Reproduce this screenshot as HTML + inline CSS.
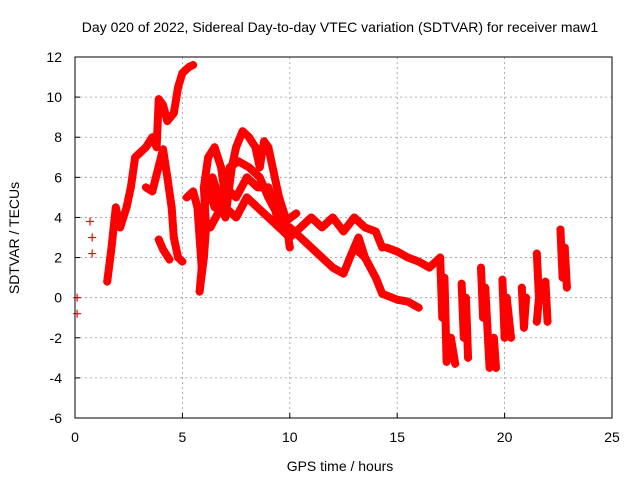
<!DOCTYPE html>
<html><head><meta charset="utf-8"><style>
body{margin:0;background:#fff}
svg{display:block;font-family:"Liberation Sans",sans-serif}
</style></head><body>
<svg id="chart" width="640" height="480">
<rect width="640" height="480" fill="#fff"/>
<text x="340" y="32" font-size="14" text-anchor="middle">Day 020 of 2022, Sidereal Day-to-day VTEC variation (SDTVAR) for receiver maw1</text>
<text x="340" y="471" font-size="14" text-anchor="middle">GPS time / hours</text>
<text transform="translate(19,238) rotate(-90)" font-size="14" text-anchor="middle">SDTVAR / TECUs</text>
<g id="grid"></g><g id="ticks"></g><g id="marks"></g>
<rect x="75" y="57" width="537" height="361" fill="none" stroke="#000"/>
</svg>
<script>
const xTicks=[0,5,10,15,20,25];
const yTicks=[-6,-4,-2,0,2,4,6,8,10,12];
const isoA=[[0.1,0],[0.1,-0.8]];
const isoB=[[0.7,3.8],[0.8,3],[0.8,2.2]];
const t1=[[1.5,0.8],[1.7,2.5],[1.9,4.5],[2.1,3.5],[2.4,4.5],[2.6,5.5],[2.8,7],[3.3,7.5],[3.6,8],[3.8,7.5],[3.9,9.9],[4.1,9.6],[4.3,8.8],[4.6,9.2],[4.8,10.5],[5.0,11.2],[5.3,11.5],[5.5,11.6]];
const t2=[[3.3,5.5],[3.6,5.3],[4.1,7.4],[4.3,6],[4.5,4.5],[4.6,3],[4.8,2],[5.0,1.8]];
const t2b=[[3.9,2.9],[4.1,2.4],[4.4,1.9]];
const t3=[[5.2,5],[5.5,5.3],[5.7,4.5],[5.8,3],[5.9,1.5],[5.8,0.3],[6.0,2],[6.1,3.5],[6.0,5.5],[6.2,7],[6.5,7.5],[6.8,6.5],[7.0,5]];
const t4=[[6.0,4.5],[6.4,6],[6.7,5],[7,4],[7.3,6.5],[7.5,7.5],[7.8,8.3],[8.1,8],[8.4,7.5],[8.6,6.5],[8.8,7.8],[9.0,7.5],[9.3,6],[9.5,5],[9.8,4],[10,2.5]];
const t5=[[6.2,5.5],[6.5,4.5],[7,5.5],[7.5,5],[8,6],[8.5,5.5],[9,5.5],[9.3,4.5],[9.5,3.5],[10,3],[10.5,3.5],[11,4],[11.5,3.5],[12,4],[12.5,3.3],[13,4],[13.5,3.5],[14,3.3],[14.3,2.5]];
const t6=[[7,4.5],[7.5,4],[8,5],[8.5,4.5],[9,4],[9.5,3.5],[10,3.5],[10.5,3],[11,2.5],[11.5,2],[12,1.5],[12.5,1.2],[12.8,2],[13.2,3],[13.5,2]];
const t7=[[13,2.5],[13.5,2],[14,1],[14.3,0.2],[15,-0.1],[15.5,-0.2],[16,-0.5]];
const t8=[[14.5,2.5],[15,2.3],[15.5,2],[16,1.8],[16.5,1.5],[17,2]];
const t9=[[6.3,3.5],[6.8,4.5],[7.2,6.5],[7.6,6.8],[8.1,6.5],[8.6,6],[9.0,5],[9.4,4.2],[9.8,3.8],[10.3,4.2]];
const c1=[[17.0,2],[17.1,-1],[17.2,1],[17.3,-3.2],[17.5,-2],[17.7,-3.3]];
const c2=[[18.0,0.7],[18.1,-2],[18.2,0],[18.3,-3]];
const c3=[[18.9,1.5],[19.0,-1],[19.1,0.5],[19.3,-3.5],[19.5,-2],[19.6,-3.5]];
const c4=[[19.9,0.9],[20.0,-2],[20.1,0],[20.3,-2]];
const c5=[[20.8,0.5],[20.9,-1.5],[21.0,0]];
const c6=[[21.5,2.2],[21.6,0],[21.5,-1.2]];
const c7=[[21.9,0.8],[22.0,-1.2]];
const c8=[[22.6,3.4],[22.7,1],[22.8,2.5],[22.9,0.5]];
const tracks=[isoA,isoB,t1,t2,t2b,t3,t4,t5,t6,t7,t8,t9,c1,c2,c3,c4,c5,c6,c7,c8];
const NS='http://www.w3.org/2000/svg';
const X=v=>75+v*537/25, Y=v=>57+(12-v)*361/18;
const grid=document.getElementById('grid'),ticks=document.getElementById('ticks'),marks=document.getElementById('marks');
function mk(tag,attrs,parent){const e=document.createElementNS(NS,tag);for(const k in attrs)e.setAttribute(k,attrs[k]);parent.appendChild(e);return e;}
xTicks.forEach(t=>{
 if(t>0&&t<25){const g=mk('line',{x1:X(t),x2:X(t),y1:57,y2:418,stroke:'#999','stroke-dasharray':'2,3','stroke-width':0.8},grid);
 
 }
 mk('line',{x1:X(t),x2:X(t),y1:418,y2:413,stroke:'#000'},ticks);
 const l=mk('text',{x:X(t),y:442,'font-size':14,'text-anchor':'middle'},ticks);l.textContent=t;
 
 
});
yTicks.forEach(t=>{
 if(t>-6&&t<12){const g=mk('line',{x1:75,x2:612,y1:Y(t),y2:Y(t),stroke:'#999','stroke-dasharray':'2,3','stroke-width':0.8},grid);
 
 }
 mk('line',{x1:75,x2:80,y1:Y(t),y2:Y(t),stroke:'#000'},ticks);
 const l=mk('text',{x:62,y:Y(t)+5,'font-size':14,'text-anchor':'end'},ticks);l.textContent=t;
 
 
});
tracks.forEach((tr,i)=>{
 if(i>=2){const p=mk('polyline',{points:tr.map(d=>X(d[0])+','+Y(d[1])).join(' '),fill:'none',stroke:'#f00','stroke-width':8,'stroke-linejoin':'round','stroke-linecap':'round'},marks);
 
 }
 tr.forEach(d=>{
  const x=X(d[0]),y=Y(d[1]);
  const m=mk('path',{d:`M${x-4},${y}H${x+4}M${x},${y-4}V${y+4}`,stroke:'#f00','stroke-width':1.2},marks);
  
  
 });
});
</script>
</body></html>
